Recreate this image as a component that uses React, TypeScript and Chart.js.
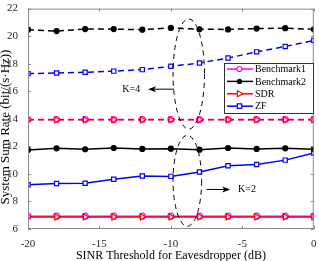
import React, { useEffect, useRef } from "react";
import { Chart, registerables } from "chart.js";

Chart.register(...registerables);

const xValues = [-20, -18, -16, -14, -12, -10, -8, -6, -4, -2, 0];
const xTicks = [-20, -15, -10, -5, 0];
const yTicks = [6, 8, 10, 12, 14, 16, 18, 20, 22];

const bench1K4 = [13.95, 13.95, 13.95, 13.95, 13.95, 13.95, 13.95, 13.95, 13.95, 13.95, 13.95];
const bench2K4 = [20.47, 20.37, 20.51, 20.51, 20.47, 20.6, 20.5, 20.49, 20.55, 20.58, 20.5];
const sdrK4 = [13.93, 13.93, 13.93, 13.93, 13.93, 13.93, 13.93, 13.93, 13.93, 13.93, 13.93];
const zfK4 = [17.28, 17.33, 17.38, 17.46, 17.57, 17.81, 18.05, 18.41, 18.86, 19.25, 19.68];

const bench1K2 = [6.93, 6.93, 6.93, 6.93, 6.93, 6.93, 6.93, 6.93, 6.93, 6.93, 6.93];
const bench2K2 = [11.74, 11.86, 11.79, 11.88, 11.81, 11.83, 11.76, 11.88, 11.81, 11.86, 11.79];
const sdrK2 = [6.88, 6.88, 6.88, 6.88, 6.88, 6.88, 6.88, 6.88, 6.88, 6.88, 6.88];
const zfK2 = [9.21, 9.3, 9.32, 9.61, 9.85, 9.82, 10.14, 10.59, 10.68, 11.0, 11.52];

const legendLabels = ["Benchmark1", "Benchmark2", "SDR", "ZF"];
const xTitle = "SINR Threshold for Eavesdropper (dB)";
const yTitle = "System Sum Rate (bit/(s\u00b7Hz))";

const FONT = "'Liberation Serif', 'Times New Roman', serif";

const toPts = (arr: number[]) => xValues.map((x, i) => ({ x, y: arr[i] }));

const styles: any = {
  Benchmark1: { color: "#ff00ff", pointStyle: "circle", fill: "#ffffff", radius: 3, rot: 0 },
  Benchmark2: { color: "#000000", pointStyle: "circle", fill: "#000000", radius: 2.5, rot: 0 },
  SDR: { color: "#ff0000", pointStyle: "triangle", fill: "#ffffff", radius: 3.5, rot: 90 },
  ZF: { color: "#0000ff", pointStyle: "rect", fill: "#ffffff", radius: 3, rot: 0 },
};

function makeDs(name: string, arr: number[], dashed: boolean) {
  const s = styles[name];
  return {
    label: name,
    data: toPts(arr),
    borderColor: s.color,
    backgroundColor: s.fill,
    borderWidth: 1.5,
    borderDash: dashed ? [6, 4] : [],
    pointStyle: s.pointStyle,
    pointRadius: s.radius,
    pointRotation: s.rot,
    pointBorderColor: s.color,
    pointBackgroundColor: s.fill,
    pointBorderWidth: 1.2,
    tension: 0,
    fill: false,
  };
}

function drawMarker(ctx: CanvasRenderingContext2D, name: string, x: number, y: number) {
  const s = styles[name];
  ctx.save();
  ctx.strokeStyle = s.color;
  ctx.fillStyle = s.fill;
  ctx.lineWidth = 1.2;
  ctx.setLineDash([]);
  ctx.beginPath();
  if (s.pointStyle === "circle") {
    ctx.arc(x, y, s.radius - 0.5, 0, Math.PI * 2);
  } else if (s.pointStyle === "rect") {
    const h = s.radius * 0.75;
    ctx.rect(x - h, y - h, 2 * h, 2 * h);
  } else {
    const r = s.radius;
    ctx.moveTo(x + r, y);
    ctx.lineTo(x - r * 0.6, y - r * 0.85);
    ctx.lineTo(x - r * 0.6, y + r * 0.85);
    ctx.closePath();
  }
  ctx.fill();
  ctx.stroke();
  ctx.restore();
}

const overlayPlugin = {
  id: "overlay",
  afterDatasetsDraw(chart: any) {
    const { ctx, chartArea, scales } = chart;
    const xs = scales.x;
    const ys = scales.y;
    ctx.save();

    // frame
    ctx.strokeStyle = "#8a8a8a";
    ctx.lineWidth = 1;
    ctx.setLineDash([]);
    ctx.strokeRect(chartArea.left + 0.5, chartArea.top + 0.5, chartArea.right - chartArea.left - 1, chartArea.bottom - chartArea.top - 1);
    const tl = 3;
    ctx.beginPath();
    xs.ticks.forEach((t: any) => {
      const px = Math.round(xs.getPixelForValue(t.value)) + 0.5;
      ctx.moveTo(px, chartArea.bottom);
      ctx.lineTo(px, chartArea.bottom - tl);
      ctx.moveTo(px, chartArea.top);
      ctx.lineTo(px, chartArea.top + tl);
    });
    ys.ticks.forEach((t: any) => {
      const py = Math.round(ys.getPixelForValue(t.value)) + 0.5;
      ctx.moveTo(chartArea.left, py);
      ctx.lineTo(chartArea.left + tl, py);
      ctx.moveTo(chartArea.right, py);
      ctx.lineTo(chartArea.right - tl, py);
    });
    ctx.stroke();

    // y title
    ctx.save();
    ctx.translate(6, 127);
    ctx.rotate(-Math.PI / 2);
    ctx.fillStyle = "#000";
    ctx.font = "13px " + FONT;
    ctx.textAlign = "center";
    ctx.textBaseline = "middle";
    ctx.fillText(yTitle, 0, 0);
    ctx.restore();

    // ellipses
    ctx.strokeStyle = "#000";
    ctx.lineWidth = 1;
    ctx.setLineDash([5, 4]);
    const drawEllipse = (cx: number, cy: number, rx: number, ry: number) => {
      const px = xs.getPixelForValue(cx);
      const py = ys.getPixelForValue(cy);
      const prx = Math.abs(xs.getPixelForValue(cx + rx) - px);
      const pry = Math.abs(ys.getPixelForValue(cy + ry) - py);
      ctx.beginPath();
      ctx.ellipse(px, py, prx, pry, 0, 0, Math.PI * 2);
      ctx.stroke();
    };
    drawEllipse(-8.75, 17.25, 1.1, 4.0);
    drawEllipse(-8.85, 9.5, 1.0, 3.3);
    ctx.setLineDash([]);

    // arrows
    const arrow = (x1: number, y1: number, x2: number, y2: number) => {
      const p1x = xs.getPixelForValue(x1), p1y = ys.getPixelForValue(y1);
      const p2x = xs.getPixelForValue(x2), p2y = ys.getPixelForValue(y2);
      const dir = Math.sign(p2x - p1x);
      ctx.beginPath();
      ctx.moveTo(p1x, p1y);
      ctx.lineTo(p2x - dir * 6, p2y);
      ctx.stroke();
      ctx.beginPath();
      ctx.moveTo(p2x, p2y);
      ctx.lineTo(p2x - dir * 8, p2y - 3);
      ctx.lineTo(p2x - dir * 6, p2y);
      ctx.lineTo(p2x - dir * 8, p2y + 3);
      ctx.closePath();
      ctx.fillStyle = "#000";
      ctx.fill();
    };
    arrow(-9.8, 16.15, -11.6, 16.15);
    arrow(-7.5, 8.87, -5.85, 8.87);

    ctx.fillStyle = "#000";
    ctx.font = "10px " + FONT;
    ctx.textBaseline = "middle";
    ctx.textAlign = "left";
    ctx.fillText("K=4", xs.getPixelForValue(-13.4), ys.getPixelForValue(16.15));
    ctx.fillText("K=2", xs.getPixelForValue(-5.3), ys.getPixelForValue(8.87));

    // legend
    const lx = 224, ly = 63, lw = 89, lh = 50;
    ctx.fillStyle = "#fff";
    ctx.fillRect(lx, ly, lw, lh);
    ctx.strokeStyle = "#333";
    ctx.lineWidth = 1;
    ctx.strokeRect(lx + 0.5, ly + 0.5, lw, lh);
    legendLabels.forEach((name, i) => {
      const s = styles[name];
      const y = ly + 6 + i * 12.4;
      ctx.strokeStyle = s.color;
      ctx.lineWidth = 1.5;
      ctx.beginPath();
      ctx.moveTo(lx + 3, y);
      ctx.lineTo(lx + 29, y);
      ctx.stroke();
      drawMarker(ctx, name, lx + 15.5, y);
      ctx.fillStyle = "#000";
      ctx.font = "10px " + FONT;
      ctx.textAlign = "left";
      ctx.textBaseline = "middle";
      ctx.fillText(name, lx + 31, y + 0.5);
    });
    ctx.restore();
  },
};

export default function App() {
  const ref = useRef<HTMLCanvasElement | null>(null);
  useEffect(() => {
    document.body.style.margin = "0";
    const canvas = ref.current;
    if (!canvas) return;
    const chart = new Chart(canvas, {
      type: "line",
      data: {
        datasets: [
          makeDs("Benchmark2", bench2K4, true),
          makeDs("ZF", zfK4, true),
          makeDs("SDR", sdrK4, true),
          makeDs("Benchmark1", bench1K4, true),
          makeDs("Benchmark2", bench2K2, false),
          makeDs("ZF", zfK2, false),
          makeDs("SDR", sdrK2, false),
          makeDs("Benchmark1", bench1K2, false),
        ] as any,
      },
      options: {
        animation: false,
        responsive: false,
        maintainAspectRatio: false,
        layout: { padding: { top: 6, right: 5, left: 0, bottom: 0 } },
        plugins: { legend: { display: false }, tooltip: { enabled: false } },
        scales: {
          x: {
            type: "linear",
            min: -20,
            max: 0,
            afterBuildTicks: (s: any) => {
              s.ticks = xTicks.map((v) => ({ value: v }));
            },
            ticks: { color: "#262626", font: { family: FONT, size: 11 }, padding: 1, maxRotation: 0 },
            grid: { display: false },
            border: { display: false },
            title: {
              display: true,
              text: xTitle,
              color: "#000",
              font: { family: FONT, size: 12, lineHeight: 1 },
              padding: { top: 0, bottom: -1 },
            },
            afterFit: (s: any) => {
              s.height = 32;
            },
          },
          y: {
            type: "linear",
            min: 6,
            max: 22,
            afterBuildTicks: (s: any) => {
              s.ticks = yTicks.map((v) => ({ value: v }));
            },
            ticks: { color: "#262626", font: { family: FONT, size: 11 }, padding: 2 },
            grid: { display: false },
            border: { display: false },
            title: { display: false },
            afterFit: (s: any) => {
              s.width = 28;
            },
          },
        },
      } as any,
      plugins: [overlayPlugin],
    });
    return () => chart.destroy();
  }, []);
  return <canvas ref={ref} width={319} height={261} style={{ display: "block" }} />;
}
